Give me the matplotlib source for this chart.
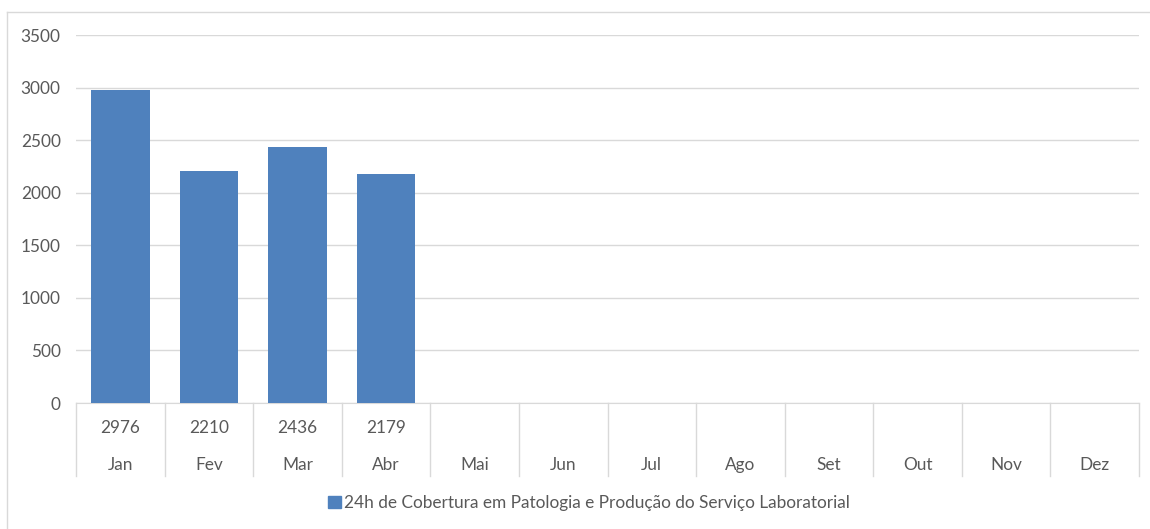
import matplotlib.pyplot as plt
from matplotlib.lines import Line2D
from matplotlib.patches import Patch
from matplotlib.transforms import blended_transform_factory

# dados
meses = ['Jan', 'Fev', 'Mar', 'Abr', 'Mai', 'Jun', 'Jul', 'Ago', 'Set', 'Out', 'Nov', 'Dez']
valores = [2976, 2210, 2436, 2179]
serie = '24h de Cobertura em Patologia e Produção do Serviço Laboratorial'

COR_BARRA = '#4f81bd'
COR_TEXTO = '#595959'
COR_GRADE = '#d9d9d9'
TAM = 12.4

plt.rcParams['font.family'] = ['Lato', 'DejaVu Sans']

fig = plt.figure(figsize=(11.5, 5.29), dpi=100)
ax = fig.add_axes([76 / 1150, 1 - 403 / 529, (1139 - 76) / 1150, (403 - 35) / 529])

x = list(range(len(meses)))
ax.bar(x[:len(valores)], valores, width=0.66, color=COR_BARRA, zorder=3)

ax.set_xlim(-0.5, len(meses) - 0.5)
ax.set_ylim(0, 3500)
ax.set_yticks(range(0, 3501, 500))
ax.yaxis.grid(True, color=COR_GRADE, linewidth=1)
ax.set_axisbelow(True)
ax.tick_params(axis='y', length=0, pad=11, labelsize=TAM, labelcolor=COR_TEXTO)
ax.tick_params(axis='x', length=0, labelbottom=False)
for s in ['top', 'right', 'left']:
    ax.spines[s].set_visible(False)
ax.spines['bottom'].set_color(COR_GRADE)

# tabela de dados abaixo do eixo
trans = blended_transform_factory(ax.transData, ax.transAxes)
fundo = -73 / 368
for i in range(len(meses) + 1):
    ax.plot([i - 0.5, i - 0.5], [0, fundo], transform=trans, color=COR_GRADE,
            linewidth=1, clip_on=False)
for i, m in enumerate(meses):
    if i < len(valores):
        ax.text(i, -25 / 368, str(valores[i]), transform=trans, ha='center', va='center',
                fontsize=TAM, color=COR_TEXTO)
    ax.text(i, -62 / 368, m, transform=trans, ha='center', va='center',
            fontsize=TAM, color=COR_TEXTO)

# legenda
fig.legend(handles=[Patch(color=COR_BARRA, label=serie)], loc='center',
           bbox_to_anchor=(589 / 1150, 1 - 503 / 529), frameon=False, fontsize=TAM,
           labelcolor=COR_TEXTO, handlelength=0.75, handleheight=0.75, handletextpad=0.2)

# borda do gráfico
fig.add_artist(Line2D([7 / 1150, 7 / 1150], [0, 1 - 12 / 529], color=COR_GRADE, linewidth=1))
fig.add_artist(Line2D([7 / 1150, 1], [1 - 12 / 529, 1 - 12 / 529], color=COR_GRADE, linewidth=1))

fig.savefig('out.png', dpi=100)
